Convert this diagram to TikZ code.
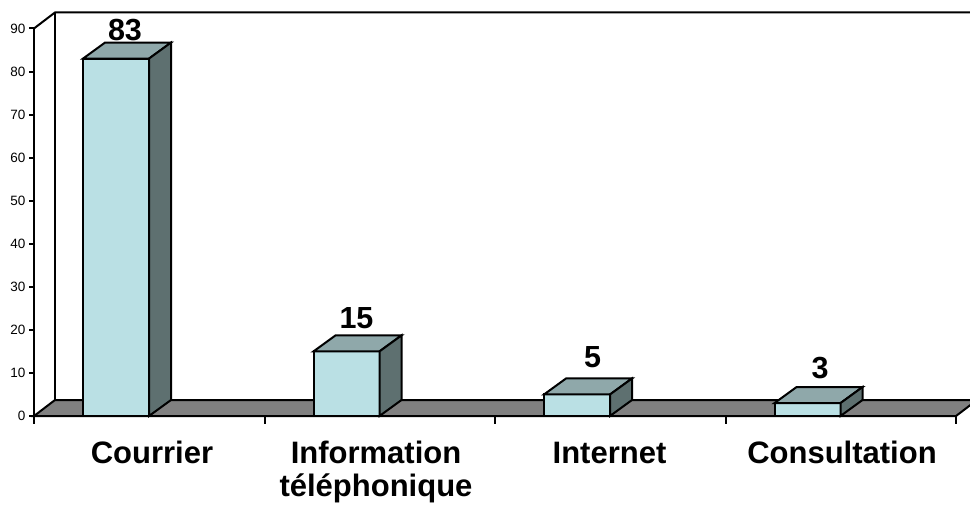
\documentclass[tikz,border=0pt]{standalone}
\usepackage{fontspec}
\setmainfont{Liberation Sans}
\newlength{\du}
\setlength{\du}{10\unitlength}
\definecolor{barfrontcol}{RGB}{186,224,228}
\definecolor{bartopcol}{RGB}{143,168,170}
\definecolor{barsidecol}{RGB}{94,112,112}
\definecolor{floorcol}{RGB}{128,128,128}
\tikzset{
  chartline/.style={draw=black, line width=0.2\du, line join=miter},
  barfront/.style={chartline, fill=barfrontcol},
  bartop/.style={chartline, fill=bartopcol},
  barside/.style={chartline, fill=barsidecol},
  floorface/.style={chartline, fill=floorcol},
  ticklabel/.style={anchor=east, inner sep=0pt, font=\fontsize{13.5}{15}\selectfont},
  valuelabel/.style={anchor=base, inner sep=0pt, font=\fontsize{30.5}{34}\selectfont\bfseries},
  catlabel/.style={anchor=base, inner sep=0pt, align=center, font=\fontsize{31}{33.5}\selectfont\bfseries}
}

\begin{document}
\begin{tikzpicture}
\pgftransformxscale{1.000000}
\pgftransformyscale{-1.000000}
\useasboundingbox (0.000000\du,0.000000\du) rectangle (97.000000\du,51.400000\du);
% back wall and floor
\draw[chartline] (3.400000\du,2.846000\du)--(5.500000\du,1.246000\du)--(97.500000\du,1.246000\du);
\draw[chartline] (5.500000\du,1.246000\du)--(5.500000\du,40.000000\du);
\draw[floorface] (3.400000\du,41.600000\du)--(5.500000\du,40.000000\du)--(97.700000\du,40.000000\du)--(95.600000\du,41.600000\du)--cycle;
% value axis
\draw[chartline] (3.400000\du,2.846000\du)--(3.400000\du,42.400000\du);
\draw[chartline] (2.900000\du,41.600000\du)--(3.400000\du,41.600000\du);
\draw[chartline] (2.900000\du,37.294000\du)--(3.400000\du,37.294000\du);
\draw[chartline] (2.900000\du,32.988000\du)--(3.400000\du,32.988000\du);
\draw[chartline] (2.900000\du,28.682000\du)--(3.400000\du,28.682000\du);
\draw[chartline] (2.900000\du,24.376000\du)--(3.400000\du,24.376000\du);
\draw[chartline] (2.900000\du,20.070000\du)--(3.400000\du,20.070000\du);
\draw[chartline] (2.900000\du,15.764000\du)--(3.400000\du,15.764000\du);
\draw[chartline] (2.900000\du,11.458000\du)--(3.400000\du,11.458000\du);
\draw[chartline] (2.900000\du,7.152000\du)--(3.400000\du,7.152000\du);
\draw[chartline] (2.900000\du,2.846000\du)--(3.400000\du,2.846000\du);
\node[ticklabel] (tick0) at (2.550000\du,41.600000\du){0};
\node[ticklabel] (tick10) at (2.550000\du,37.294000\du){10};
\node[ticklabel] (tick20) at (2.550000\du,32.988000\du){20};
\node[ticklabel] (tick30) at (2.550000\du,28.682000\du){30};
\node[ticklabel] (tick40) at (2.550000\du,24.376000\du){40};
\node[ticklabel] (tick50) at (2.550000\du,20.070000\du){50};
\node[ticklabel] (tick60) at (2.550000\du,15.764000\du){60};
\node[ticklabel] (tick70) at (2.550000\du,11.458000\du){70};
\node[ticklabel] (tick80) at (2.550000\du,7.152000\du){80};
\node[ticklabel] (tick90) at (2.550000\du,2.846000\du){90};
% category axis
\draw[chartline] (3.400000\du,41.600000\du)--(95.600000\du,41.600000\du);
\draw[chartline] (26.450000\du,41.600000\du)--(26.450000\du,42.400000\du);
\draw[chartline] (49.500000\du,41.600000\du)--(49.500000\du,42.400000\du);
\draw[chartline] (72.550000\du,41.600000\du)--(72.550000\du,42.400000\du);
\draw[chartline] (95.600000\du,41.600000\du)--(95.600000\du,42.400000\du);
% bar Courrier
\draw[barfront] (8.300000\du,41.600000\du)--(8.300000\du,5.860000\du)--(14.900000\du,5.860000\du)--(14.900000\du,41.600000\du)--cycle;
\draw[bartop] (8.300000\du,5.860000\du)--(10.500000\du,4.260000\du)--(17.100000\du,4.260000\du)--(14.900000\du,5.860000\du)--cycle;
\draw[barside] (14.900000\du,5.860000\du)--(17.100000\du,4.260000\du)--(17.100000\du,40.000000\du)--(14.900000\du,41.600000\du)--cycle;
\node[valuelabel] (val1) at (12.500000\du,4.000000\du){83};
% bar Information telephonique
\draw[barfront] (31.350000\du,41.600000\du)--(31.350000\du,35.141000\du)--(37.950000\du,35.141000\du)--(37.950000\du,41.600000\du)--cycle;
\draw[bartop] (31.350000\du,35.141000\du)--(33.550000\du,33.541000\du)--(40.150000\du,33.541000\du)--(37.950000\du,35.141000\du)--cycle;
\draw[barside] (37.950000\du,35.141000\du)--(40.150000\du,33.541000\du)--(40.150000\du,40.000000\du)--(37.950000\du,41.600000\du)--cycle;
\node[valuelabel] (val2) at (35.650000\du,32.800000\du){15};
% bar Internet
\draw[barfront] (54.400000\du,41.600000\du)--(54.400000\du,39.447000\du)--(61.000000\du,39.447000\du)--(61.000000\du,41.600000\du)--cycle;
\draw[bartop] (54.400000\du,39.447000\du)--(56.600000\du,37.847000\du)--(63.200000\du,37.847000\du)--(61.000000\du,39.447000\du)--cycle;
\draw[barside] (61.000000\du,39.447000\du)--(63.200000\du,37.847000\du)--(63.200000\du,40.000000\du)--(61.000000\du,41.600000\du)--cycle;
\node[valuelabel] (val3) at (59.250000\du,36.700000\du){5};
% bar Consultation
\draw[barfront] (77.450000\du,41.600000\du)--(77.450000\du,40.308000\du)--(84.050000\du,40.308000\du)--(84.050000\du,41.600000\du)--cycle;
\draw[bartop] (77.450000\du,40.308000\du)--(79.650000\du,38.708000\du)--(86.250000\du,38.708000\du)--(84.050000\du,40.308000\du)--cycle;
\draw[barside] (84.050000\du,40.308000\du)--(86.250000\du,38.708000\du)--(86.250000\du,40.000000\du)--(84.050000\du,41.600000\du)--cycle;
\node[valuelabel] (val4) at (82.000000\du,37.800000\du){3};
% category names
\node[catlabel] (cat1) at (15.200000\du,46.300000\du){Courrier};
\node[catlabel] (cat2) at (37.600000\du,49.650000\du){Information\\téléphonique};
\node[catlabel] (cat3) at (60.950000\du,46.300000\du){Internet};
\node[catlabel] (cat4) at (84.200000\du,46.300000\du){Consultation};
\end{tikzpicture}
\end{document}
